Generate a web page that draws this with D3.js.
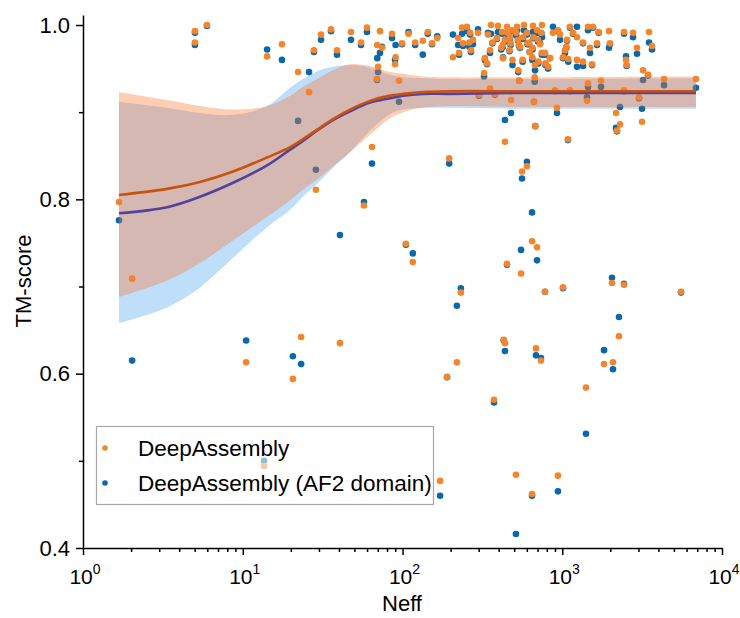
<!DOCTYPE html>
<html>
<head>
<meta charset="utf-8">
<title>TM-score vs Neff</title>
<script src="https://cdn.jsdelivr.net/npm/d3@7"></script>
<style>
  body { margin: 0; background: #fff; }
  svg { display: block; font-family: Arial, "Liberation Sans", sans-serif; }
</style>
</head>
<body>
<div id="chart"></div>
<script>
// Neff of each target, with TM-score of the two methods (same order)
const neff = [
  1.68, 2.03, 5.02, 5.02, 5.97, 10.5, 13.6, 14.2, 17.6, 20.6,
  22.2, 23.2, 26.0, 27.9, 28.7, 30.9, 35.7, 38.9, 40.6, 47.6,
  55.0, 57.4, 59.9, 64.4, 70.3, 69.2, 89.8, 95.1, 72.3, 74.4,
  69.5, 86.0, 90.5, 99.3, 109, 120, 134, 144, 153, 165,
  105, 116, 196, 172, 190, 219, 232, 207, 236, 253,
  265, 297, 223, 239, 262, 276, 226, 268, 324, 301,
  353, 379, 358, 396, 451, 521, 576, 656, 747, 343,
  420, 455, 485, 515, 601, 695, 740, 390, 438, 471,
  528, 568, 660, 705, 365, 425, 475, 536, 605, 620,
  726, 353, 415, 468, 544, 625, 652, 745, 780, 328,
  338, 426, 488, 565, 650, 675, 530, 708, 785, 815,
  838, 538, 672, 665, 678, 438, 478, 560, 601, 647,
  695, 552, 451, 780, 1011, 438, 430, 685, 736, 374,
  513, 647, 940, 875, 940, 968, 1071, 1118, 1168, 1237,
  1060, 1041, 1011, 1090, 1450, 1557, 1690, 1349, 1492, 1651,
  1237, 1349, 1536, 1962, 1990, 2436, 2773, 2508, 2530, 2938,
  3493, 3647, 3204, 3444, 4338, 6873, 1450, 1748, 1429, 901,
  1118, 927, 2170, 2298, 2201, 2436, 3023, 3157, 1086, 2048,
  2436, 5538, 2265, 1826, 2078, 1408
];
const tmDeepAssembly = [
  .797, .709, .993, .980, 1.000, .613, .494, .964, .978, .594,
  .946, .642, .923, .971, .811, .989, .995, .971, .635, .992,
  .980, .793, .997, .860, .952, .938, .955, .936, .993, .974,
  .977, .990, .963, .979, .990, .980, .982, .992, .979, .985,
  .749, .728, .847, .477, .596, .613, .693, .963, .997, .998,
  .991, .991, .985, .979, .980, .983, .968, .971, .945, .920,
  .927, .921, 1.000, .999, .998, .998, 1.000, .999, 1.000, .989,
  .992, .991, .994, .991, .991, .994, .991, .985, .983, .986,
  .983, .986, .986, .983, .980, .977, .979, .977, .979, .980,
  .978, .971, .974, .971, .975, .969, .974, .968, .968, .962,
  .956, .962, .960, .960, .963, .954, .948, .958, .956, .952,
  .962, .936, .940, .912, .884, .866, .914, .832, .838, .752,
  .745, .715, .726, .694, .699, .635, .639, .629, .615, .570,
  .484, .462, .483, .991, .994, .989, .983, .998, .991, .986,
  .975, .971, .963, .961, .998, .998, .992, .980, .974, .979,
  .960, .958, .955, .993, .979, .992, .991, .960, .954, .974,
  .992, .976, .948, .943, .938, .938, .933, .936, .913, .925,
  .925, .905, .899, .886, .879, .925, .917, .889, .869, .704,
  .702, .694, .643, .611, .613, .584
];
const tmAF2Domain = [
  .776, .615, .991, .977, .999, .638, .500, .972, .960, .620,
  .890, .611, .946, .969, .834, .983, .993, .966, .759, .983,
  .977, .797, .992, .841, .946, .937, .960, .912, .968, .975,
  .962, .985, .977, .978, .992, .977, .966, .990, .978, .987,
  .748, .738, .841, .460, .596, .678, .698, .989, .990, .993,
  .989, .995, .977, .976, .975, .978, .966, .969, .941, .919,
  .925, .920, .990, .992, .991, .994, .994, .992, .986, .991,
  .990, .989, .993, .988, .989, .991, .990, .984, .981, .984,
  .982, .984, .985, .981, .979, .975, .977, .976, .978, .978,
  .979, .968, .972, .970, .974, .969, .972, .966, .966, .960,
  .955, .963, .954, .958, .960, .948, .946, .956, .954, .950,
  .962, .936, .935, .912, .884, .891, .899, .824, .843, .785,
  .730, .742, .725, .694, .698, .626, .638, .621, .618, .567,
  .416, .460, .465, .998, .993, .983, .982, .997, .990, .998,
  .974, .968, .962, .958, .994, .997, .991, .979, .968, .977,
  .952, .953, .954, .974, .978, .990, .986, .964, .953, .967,
  .980, .972, .937, .942, .931, .928, .929, .929, .917, .924,
  .924, .899, .882, .906, .878, .924, .916, .904, .868, .710,
  .703, .693, .665, .627, .605, .531
];

// fitted curves and confidence bands, sampled on a common Neff grid
const fitNeff = [1.68, 3.36, 5.4, 8.7, 14.2, 19.8, 23.8, 29.2, 36.7, 46.9, 62.6, 83.5, 101, 134, 198, 500, 6870];
const fitDA      = [.805, .812, .820, .832, .848, .860, .869, .880, .892, .903, .913, .919, .921, .923, .924, .924, .924];
const fitDALow   = [.688, .707, .727, .753, .780, .799, .811, .823, .838, .854, .874, .893, .900, .905, .907, .906, .906];
const fitDAHigh  = [.923, .914, .907, .903, .907, .919, .929, .938, .948, .955, .953, .946, .944, .941, .940, .940, .941];
const fitAF2     = [.784, .791, .803, .819, .839, .857, .867, .879, .891, .901, .911, .916, .919, .921, .921, .922, .922];
const fitAF2Low  = [.658, .676, .699, .733, .768, .788, .803, .818, .836, .854, .879, .898, .903, .905, .905, .904, .904];
const fitAF2High = [.912, .905, .899, .897, .907, .928, .938, .947, .952, .954, .951, .943, .940, .939, .938, .938, .939];

const seriesNames = ["DeepAssembly", "DeepAssembly (AF2 domain)"];
const yTicks = [0.4, 0.6, 0.8, 1.0];
const yMinor = [0.5, 0.7, 0.9];
const xDecades = [0, 1, 2, 3, 4];

const colDA = "#f3862c", colAF2 = "#0a68ab";
const lineDA = "#c9530e", lineAF2 = "#54419d";

const W = 740, H = 618;
const svg = d3.select("#chart").append("svg").attr("width", W).attr("height", H);

const x = d3.scaleLog().domain([1, 1e4]).range([83, 722]);
const y = d3.scaleLinear().domain([0.4, 1.0115]).range([548, 15]);

const fitRows = fitNeff.map((n, i) => ({
  n, da: fitDA[i], daLo: fitDALow[i], daHi: fitDAHigh[i],
  af: fitAF2[i], afLo: fitAF2Low[i], afHi: fitAF2High[i]
}));
const pts = neff.map((n, i) => ({ n, da: tmDeepAssembly[i], af: tmAF2Domain[i] }));

const curve = d3.curveCatmullRom.alpha(0.5);

// blue confidence band (under the points)
svg.append("path").datum(fitRows)
  .attr("fill", "#bedefa")
  .attr("d", d3.area().curve(curve).x(d => x(d.n)).y0(d => y(d.afLo)).y1(d => y(d.afHi)));

// scatter: AF2 domain first, DeepAssembly on top
svg.append("g").selectAll("circle").data(pts).join("circle")
  .attr("cx", d => x(d.n)).attr("cy", d => y(d.af)).attr("r", 3.3).attr("fill", colAF2);
svg.append("g").selectAll("circle").data(pts).join("circle")
  .attr("cx", d => x(d.n)).attr("cy", d => y(d.da)).attr("r", 3.3).attr("fill", colDA);

// orange confidence band, translucent over everything
svg.append("path").datum(fitRows)
  .attr("fill", "#f97834").attr("fill-opacity", 0.37)
  .attr("d", d3.area().curve(curve).x(d => x(d.n)).y0(d => y(d.daLo)).y1(d => y(d.daHi)));

// fit lines
svg.append("path").datum(fitRows)
  .attr("fill", "none").attr("stroke", lineAF2).attr("stroke-width", 2.6)
  .attr("d", d3.line().curve(curve).x(d => x(d.n)).y(d => y(d.af)));
svg.append("path").datum(fitRows)
  .attr("fill", "none").attr("stroke", lineDA).attr("stroke-width", 2.6)
  .attr("d", d3.line().curve(curve).x(d => x(d.n)).y(d => y(d.da)));

// axes
const yAxis = svg.append("g").attr("transform", "translate(83,0)")
  .call(d3.axisLeft(y).tickValues(yTicks).tickFormat(d3.format(".1f"))
    .tickSize(7).tickSizeOuter(0).tickPadding(6));
svg.append("g").attr("transform", "translate(83,0)")
  .call(d3.axisLeft(y).tickValues(yMinor).tickFormat("").tickSize(4).tickSizeOuter(0))
  .select(".domain").remove();

const majors = xDecades.map(e => Math.pow(10, e));
const minors = [];
xDecades.slice(0, -1).forEach(e => { for (let k = 2; k <= 9; k++) minors.push(k * Math.pow(10, e)); });

svg.append("g").attr("transform", "translate(0,548)")
  .call(d3.axisBottom(x).tickValues(majors).tickFormat("").tickSize(7).tickSizeOuter(0));
svg.append("g").attr("transform", "translate(0,548)")
  .call(d3.axisBottom(x).tickValues(minors).tickFormat("").tickSize(4).tickSizeOuter(0))
  .select(".domain").remove();

svg.selectAll(".domain, .tick line").attr("stroke", "#000").attr("stroke-width", 1.5);
yAxis.selectAll("text").attr("font-size", 22).attr("fill", "#000")
  .attr("font-family", "Arial, 'Liberation Sans', sans-serif");

// x tick labels as 10^n
const xl = svg.append("g").attr("font-size", 21).attr("fill", "#000");
xDecades.forEach(e => {
  const t = xl.append("text").attr("x", x(Math.pow(10, e)) + 2).attr("y", 584).attr("text-anchor", "middle");
  t.append("tspan").text("10");
  t.append("tspan").attr("font-size", 14).attr("dy", -10).text(e);
});

// axis titles
svg.append("text").attr("x", 402).attr("y", 611).attr("text-anchor", "middle")
  .attr("font-size", 22).text("Neff");
svg.append("text").attr("transform", "translate(31,281) rotate(-90)").attr("text-anchor", "middle")
  .attr("font-size", 22).text("TM-score");

// legend
const lg = svg.append("g");
lg.append("rect").attr("x", 96.5).attr("y", 426.5).attr("width", 337).attr("height", 78)
  .attr("fill", "#fff").attr("fill-opacity", 0.55).attr("stroke", "#a8a8a8").attr("stroke-width", 1.2);
[colDA, colAF2].forEach((c, i) => {
  const cy = 448 + i * 35;
  lg.append("circle").attr("cx", 105).attr("cy", cy).attr("r", 2.8).attr("fill", c);
  lg.append("text").attr("x", 138).attr("y", cy + 8).attr("font-size", 22.5).text(seriesNames[i]);
});
</script>
</body>
</html>
